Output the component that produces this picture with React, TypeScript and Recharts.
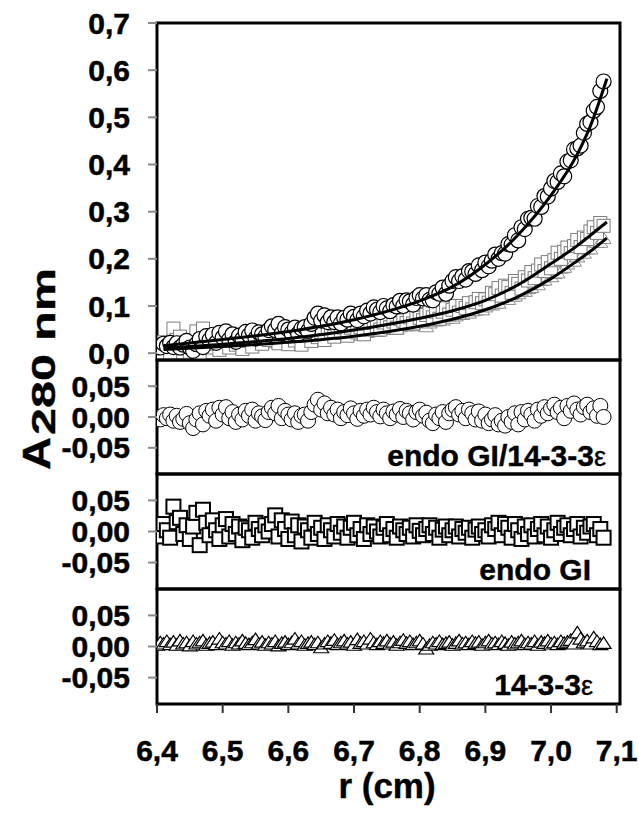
import React from "react";
import { ComposedChart, ReferenceArea, Scatter, XAxis, YAxis } from "recharts";

// radius (cm) of every scan point
const radius = [
  6.4, 6.405, 6.41, 6.415, 6.42, 6.425, 6.43, 6.435, 6.44, 6.445, 6.45, 6.455,
  6.46, 6.465, 6.47, 6.475, 6.48, 6.485, 6.49, 6.495, 6.5, 6.505, 6.51, 6.515,
  6.52, 6.525, 6.53, 6.535, 6.54, 6.545, 6.55, 6.555, 6.56, 6.565, 6.57, 6.575,
  6.58, 6.585, 6.59, 6.595, 6.6, 6.605, 6.61, 6.615, 6.62, 6.625, 6.63, 6.635,
  6.64, 6.645, 6.65, 6.655, 6.66, 6.665, 6.67, 6.675, 6.68, 6.685, 6.69, 6.695,
  6.7, 6.705, 6.71, 6.715, 6.72, 6.725, 6.73, 6.735, 6.74, 6.745, 6.75, 6.755,
  6.76, 6.765, 6.77, 6.775, 6.78, 6.785, 6.79, 6.795, 6.8, 6.805, 6.81, 6.815,
  6.82, 6.825, 6.83, 6.835, 6.84, 6.845, 6.85, 6.855, 6.86, 6.865, 6.87, 6.875,
  6.88, 6.885, 6.89, 6.895, 6.9, 6.905, 6.91, 6.915, 6.92, 6.925, 6.93, 6.935,
  6.94, 6.945, 6.95, 6.955, 6.96, 6.965, 6.97, 6.975, 6.98, 6.985, 6.99, 6.995,
  7.0, 7.005, 7.01, 7.015, 7.02, 7.025, 7.03, 7.035, 7.04, 7.045, 7.05, 7.055,
  7.06, 7.065, 7.07, 7.075, 7.08,
];

// A280, endo GI/14-3-3e (circles)
const absComplex = [
  0.016, 0.012, 0.02, 0.015, 0.022, 0.013, 0.021, 0.012, 0.018, 0.026, 0.012,
  0.005, 0.019, 0.03, 0.013, 0.036, 0.028, 0.039, 0.022, 0.043, 0.033, 0.046,
  0.029, 0.04, 0.024, 0.037, 0.03, 0.045, 0.038, 0.048, 0.031, 0.044, 0.04,
  0.035, 0.049, 0.057, 0.049, 0.062, 0.042, 0.055, 0.05, 0.043, 0.054, 0.041,
  0.052, 0.055, 0.047, 0.062, 0.075, 0.084, 0.069, 0.08, 0.066, 0.076, 0.066,
  0.076, 0.063, 0.075, 0.071, 0.084, 0.077, 0.07, 0.084, 0.078, 0.09, 0.084,
  0.097, 0.092, 0.087, 0.1, 0.095, 0.089, 0.102, 0.099, 0.111, 0.1, 0.112, 0.11,
  0.103, 0.117, 0.123, 0.116, 0.123, 0.113, 0.112, 0.129, 0.126, 0.139, 0.126,
  0.143, 0.153, 0.161, 0.153, 0.163, 0.156, 0.174, 0.173, 0.168, 0.186, 0.176,
  0.192, 0.184, 0.196, 0.209, 0.2, 0.212, 0.211, 0.231, 0.23, 0.25, 0.239, 0.267,
  0.263, 0.285, 0.287, 0.285, 0.312, 0.31, 0.333, 0.332, 0.349, 0.365, 0.363,
  0.381, 0.375, 0.406, 0.409, 0.432, 0.434, 0.44, 0.467, 0.486, 0.49, 0.514,
  0.522, 0.556, 0.576,
];

// A280, endo GI (squares)
const absEndo = [
  0.015, 0.002, 0.023, 0.013, 0.002, 0.052, 0.028, 0.035, 0.01, 0.024, 0.003,
  0.023, 0.046, -0.006, 0.052, 0.031, 0.012, 0.036, 0.02, 0.007, 0.029, 0.04,
  0.012, 0.033, 0.018, 0.03, 0.009, 0.029, 0.026, 0.014, 0.039, 0.03, 0.02,
  0.037, 0.028, 0.04, 0.055, 0.021, 0.048, 0.034, 0.019, 0.048, 0.027, 0.043,
  0.018, 0.043, 0.038, 0.026, 0.051, 0.034, 0.045, 0.028, 0.051, 0.044, 0.035,
  0.056, 0.043, 0.054, 0.037, 0.054, 0.063, 0.044, 0.055, 0.04, 0.063, 0.05,
  0.064, 0.057, 0.05, 0.065, 0.072, 0.055, 0.067, 0.054, 0.073, 0.069, 0.064,
  0.076, 0.063, 0.083, 0.075, 0.07, 0.081, 0.089, 0.076, 0.088, 0.073, 0.088,
  0.095, 0.082, 0.092, 0.1, 0.086, 0.1, 0.096, 0.106, 0.093, 0.108, 0.115,
  0.106, 0.114, 0.107, 0.128, 0.125, 0.138, 0.122, 0.143, 0.14, 0.128, 0.153,
  0.147, 0.137, 0.161, 0.154, 0.172, 0.159, 0.175, 0.188, 0.174, 0.193, 0.18,
  0.197, 0.213, 0.2, 0.215, 0.224, 0.212, 0.227, 0.24, 0.225, 0.245, 0.242,
  0.258, 0.267, 0.255, 0.276, 0.27,
];

// A280, 14-3-3e (triangles)
const absProtein = [
  0.009, 0.013, 0.012, 0.016, 0.011, 0.016, 0.011, 0.018, 0.014, 0.016, 0.012,
  0.019, 0.015, 0.018, 0.021, 0.015, 0.018, 0.02, 0.016, 0.026, 0.02, 0.019,
  0.023, 0.017, 0.022, 0.02, 0.026, 0.022, 0.021, 0.024, 0.03, 0.023, 0.026,
  0.022, 0.026, 0.025, 0.029, 0.023, 0.027, 0.03, 0.026, 0.03, 0.036, 0.029,
  0.034, 0.028, 0.032, 0.035, 0.031, 0.035, 0.027, 0.034, 0.039, 0.036, 0.042,
  0.036, 0.039, 0.043, 0.039, 0.042, 0.038, 0.048, 0.043, 0.047, 0.044, 0.053,
  0.048, 0.046, 0.052, 0.05, 0.055, 0.051, 0.055, 0.051, 0.056, 0.061, 0.058,
  0.062, 0.058, 0.062, 0.066, 0.062, 0.056, 0.064, 0.069, 0.068, 0.074, 0.07,
  0.074, 0.077, 0.074, 0.079, 0.085, 0.082, 0.086, 0.085, 0.092, 0.091, 0.095,
  0.092, 0.098, 0.104, 0.102, 0.106, 0.106, 0.114, 0.114, 0.114, 0.121, 0.121,
  0.126, 0.133, 0.131, 0.137, 0.139, 0.147, 0.145, 0.154, 0.155, 0.163, 0.162,
  0.169, 0.17, 0.18, 0.182, 0.189, 0.196, 0.195, 0.204, 0.213, 0.212, 0.221,
  0.221, 0.236, 0.235, 0.235, 0.243,
];

// fitted curves
const rFit = [6.41, 6.5, 6.6, 6.7, 6.8, 6.85, 6.9, 6.95, 7.0, 7.04, 7.06, 7.085];
const fitComplex = [
  0.016, 0.029, 0.046, 0.071, 0.111, 0.141, 0.188, 0.251, 0.335, 0.422, 0.482, 0.582,
];
const fitEndo = [
  0.011, 0.019, 0.031, 0.049, 0.074, 0.09, 0.112, 0.145, 0.19, 0.228, 0.25, 0.278,
];
const fitProtein = [
  0.008, 0.014, 0.023, 0.036, 0.057, 0.072, 0.092, 0.12, 0.158, 0.196, 0.216, 0.244,
];

// residuals
const residComplex = [
  0.0, -0.004, 0.003, -0.002, 0.004,
  -0.006, 0.002, -0.008, -0.003, 0.005, -0.01,
  -0.018, -0.004, 0.006, -0.012, 0.01, 0.002,
  0.012, -0.006, 0.015, 0.004, 0.016, -0.002,
  0.008, -0.008, 0.004, -0.004, 0.01, 0.002,
  0.012, -0.006, 0.006, 0.001, -0.005, 0.008,
  0.015, 0.006, 0.018, -0.002, 0.01, 0.004,
  -0.004, 0.006, -0.008, 0.002, 0.004, -0.006,
  0.008, 0.02, 0.028, 0.012, 0.022, 0.006,
  0.015, 0.004, 0.012, -0.002, 0.008, 0.003,
  0.014, 0.006, -0.003, 0.01, 0.002, 0.012,
  0.004, 0.015, 0.008, 0.001, 0.012, 0.006,
  -0.002, 0.009, 0.004, 0.013, 0.0, 0.01,
  0.006, -0.004, 0.008, 0.012, 0.002, 0.007,
  -0.006, -0.01, 0.004, -0.002, 0.008, -0.008,
  0.006, 0.012, 0.016, 0.004, 0.01, -0.002,
  0.012, 0.006, -0.004, 0.009, -0.006, 0.004,
  -0.01, -0.004, 0.003, -0.012, -0.006, -0.014,
  0.0, -0.008, 0.006, -0.012, 0.008, -0.004,
  0.01, 0.004, -0.006, 0.012, 0.002, 0.016,
  0.006, 0.014, 0.02, 0.008, 0.015, -0.002,
  0.018, 0.01, 0.022, 0.012, 0.004, 0.016,
  0.02, 0.008, 0.014, 0.002, 0.018, 0.0,
];

const residEndo = [
  0.005, -0.008, 0.012, 0.002, -0.01,
  0.04, 0.015, 0.022, -0.004, 0.01, -0.012,
  0.008, 0.03, -0.022, 0.035, 0.014, -0.006,
  0.018, 0.002, -0.012, 0.01, 0.02, -0.008,
  0.012, -0.004, 0.008, -0.014, 0.006, 0.002,
  -0.01, 0.014, 0.004, -0.006, 0.01, 0.0,
  0.012, 0.026, -0.008, 0.018, 0.004, -0.012,
  0.016, -0.006, 0.01, -0.016, 0.008, 0.002,
  -0.01, 0.014, -0.004, 0.006, -0.012, 0.01,
  0.002, -0.008, 0.012, -0.002, 0.008, -0.01,
  0.006, 0.014, -0.006, 0.004, -0.012, 0.01,
  -0.004, 0.008, 0.0, -0.008, 0.006, 0.012,
  -0.006, 0.004, -0.01, 0.008, 0.002, -0.004,
  0.006, -0.008, 0.01, 0.001, -0.006, 0.004,
  0.01, -0.004, 0.006, -0.01, 0.003, 0.008,
  -0.006, 0.002, 0.008, -0.008, 0.004, -0.002,
  0.006, -0.01, 0.003, 0.008, -0.004, 0.002,
  -0.008, 0.01, 0.004, 0.014, -0.006, 0.012,
  0.006, -0.01, 0.012, 0.002, -0.012, 0.008,
  -0.004, 0.01, -0.008, 0.004, 0.012, -0.006,
  0.008, -0.01, 0.002, 0.014, -0.004, 0.006,
  0.01, -0.006, 0.004, 0.012, -0.008, 0.006,
  -0.002, 0.008, 0.012, -0.006, 0.004, -0.01,
];

const residProtein = [
  0.002, 0.006, 0.004, 0.008, 0.003,
  0.007, 0.002, 0.009, 0.004, 0.006, 0.001,
  0.008, 0.004, 0.006, 0.009, 0.002, 0.005,
  0.007, 0.003, 0.012, 0.006, 0.004, 0.008,
  0.002, 0.006, 0.004, 0.009, 0.005, 0.003,
  0.006, 0.011, 0.004, 0.007, 0.002, 0.006,
  0.004, 0.008, 0.001, 0.005, 0.007, 0.003,
  0.006, 0.012, 0.004, 0.008, 0.002, 0.005,
  0.007, 0.003, 0.006, -0.002, 0.004, 0.008,
  0.005, 0.01, 0.003, 0.006, 0.009, 0.004,
  0.007, 0.002, 0.011, 0.005, 0.008, 0.004,
  0.012, 0.006, 0.003, 0.008, 0.005, 0.009,
  0.004, 0.007, 0.002, 0.006, 0.01, 0.005,
  0.008, 0.003, 0.006, 0.009, 0.004, -0.004,
  0.002, 0.006, 0.004, 0.008, 0.003, 0.005,
  0.007, 0.002, 0.005, 0.009, 0.004, 0.006,
  0.003, 0.008, 0.005, 0.007, 0.002, 0.006,
  0.009, 0.004, 0.006, 0.003, 0.008, 0.005,
  0.002, 0.007, 0.004, 0.006, 0.009, 0.003,
  0.006, 0.004, 0.008, 0.002, 0.007, 0.005,
  0.009, 0.004, 0.006, 0.003, 0.008, 0.005,
  0.007, 0.01, 0.004, 0.022, 0.012, 0.006,
  0.009, 0.004, 0.014, 0.008, 0.003, 0.005,
];

const xTicks = [6.4, 6.5, 6.6, 6.7, 6.8, 6.9, 7.0, 7.1];
const mainTicks = [0, 0.1, 0.2, 0.3, 0.4, 0.5, 0.6, 0.7];
const residTicks = [-0.05, 0, 0.05];

const FONT = "'Liberation Sans', Arial, Helvetica, sans-serif";
const X_DOMAIN: [number, number] = [6.4, 7.105];
const MAIN_DOMAIN: [number, number] = [-0.0145, 0.7];
const RESID_DOMAIN: [number, number] = [-0.0925, 0.0925];

const tickText = {
  fill: "#000",
  stroke: "#000",
  strokeWidth: 0.5,
  fontSize: 30,
  fontWeight: 700,
  fontFamily: FONT,
};
const greyTick = { stroke: "#8a8a8a", strokeWidth: 2 };

const toPoints = (xs: number[], ys: number[]) =>
  xs
    .map((x, i) => ({ x, y: ys[i] }))
    .filter((p) => typeof p.y === "number");

const comma = (digits: number) => (v: number) =>
  Number(v).toFixed(digits).replace(".", ",");

const circle = (stroke: string, width: number) => (p: any) =>
  (
    <circle cx={p.cx} cy={p.cy} r={7.5} fill="#fff" stroke={stroke} strokeWidth={width} />
  );

const square = (stroke: string, width: number, side: number) => (p: any) =>
  (
    <rect
      x={p.cx - side / 2}
      y={p.cy - side / 2}
      width={side}
      height={side}
      fill="#fff"
      stroke={stroke}
      strokeWidth={width}
    />
  );

const triangle = (stroke: string, width: number) => (p: any) =>
  (
    <path
      d={`M${p.cx},${p.cy - 6.5}L${p.cx + 7.5},${p.cy + 5}L${p.cx - 7.5},${p.cy + 5}Z`}
      fill="#fff"
      stroke={stroke}
      strokeWidth={width}
    />
  );

const noMark = () => <g />;

function MainPanel() {
  return (
    <ComposedChart
      width={639}
      height={374}
      margin={{ top: 23, right: 19, bottom: 14, left: 0 }}
    >
      <XAxis type="number" dataKey="x" domain={X_DOMAIN} hide allowDataOverflow />
      <YAxis
        type="number"
        dataKey="y"
        domain={MAIN_DOMAIN}
        ticks={mainTicks}
        interval={0}
        width={157}
        allowDataOverflow
        axisLine={false}
        tickLine={greyTick}
        tickSize={9}
        tickMargin={18}
        tick={tickText}
        tickFormatter={comma(1)}
      />
      <Scatter
        data={toPoints(radius, absProtein)}
        shape={triangle("#8c8c8c", 1)}
        isAnimationActive={false}
      />
      <Scatter
        data={toPoints(radius, absEndo)}
        shape={square("#7c7c7c", 1, 13)}
        isAnimationActive={false}
      />
      <Scatter
        data={toPoints(radius, absComplex)}
        shape={circle("#000", 1.2)}
        isAnimationActive={false}
      />
      {[fitProtein, fitEndo, fitComplex].map((fit, i) => (
        <Scatter
          key={i}
          data={toPoints(rFit, fit)}
          shape={noMark}
          line={{ stroke: "#000", strokeWidth: 3 }}
          lineJointType="monotoneX"
          isAnimationActive={false}
        />
      ))}
      <ReferenceArea
        x1={X_DOMAIN[0]}
        x2={X_DOMAIN[1]}
        y1={MAIN_DOMAIN[0]}
        y2={MAIN_DOMAIN[1]}
        fill="none"
        stroke="#000"
        strokeWidth={3}
      />
    </ComposedChart>
  );
}

interface ResidualPanelProps {
  values: number[];
  shape: (p: any) => React.ReactElement;
  height: number;
  bottom: number;
  showXLabels?: boolean;
}

function ResidualPanel({ values, shape, height, bottom, showXLabels }: ResidualPanelProps) {
  return (
    <ComposedChart
      width={639}
      height={height}
      margin={{ top: 4, right: 19, bottom, left: 0 }}
    >
      <XAxis
        xAxisId="top"
        type="number"
        dataKey="x"
        orientation="top"
        mirror
        height={0}
        domain={X_DOMAIN}
        ticks={xTicks}
        interval={0}
        allowDataOverflow
        axisLine={false}
        tickLine={{ stroke: "#000", strokeWidth: 2 }}
        tickSize={9}
        tick={false}
      />
      {showXLabels && (
        <XAxis
          xAxisId="bottom"
          type="number"
          dataKey="x"
          orientation="bottom"
          height={60}
          domain={X_DOMAIN}
          ticks={xTicks}
          interval={0}
          allowDataOverflow
          axisLine={false}
          tickLine={{ stroke: "#333", strokeWidth: 2 }}
          tickSize={9}
          tickMargin={27}
          tick={tickText}
          tickFormatter={comma(1)}
        />
      )}
      <YAxis
        type="number"
        dataKey="y"
        domain={RESID_DOMAIN}
        ticks={residTicks}
        interval={0}
        width={157}
        allowDataOverflow
        axisLine={false}
        tickLine={greyTick}
        tickSize={9}
        tickMargin={18}
        tick={tickText}
        tickFormatter={comma(2)}
      />
      <Scatter
        xAxisId="top"
        data={toPoints(radius, values)}
        shape={shape}
        isAnimationActive={false}
      />
      <ReferenceArea
        xAxisId="top"
        x1={X_DOMAIN[0]}
        x2={X_DOMAIN[1]}
        y1={RESID_DOMAIN[0]}
        y2={RESID_DOMAIN[1]}
        fill="none"
        stroke="#000"
        strokeWidth={3}
      />
    </ComposedChart>
  );
}

const panelText = {
  fontFamily: FONT,
  fontSize: 30,
  fontWeight: 700,
  fill: "#000",
  stroke: "#000",
  strokeWidth: 0.4,
};

export default function App() {
  return (
    <div
      style={{
        position: "absolute",
        left: 0,
        top: 0,
        width: 639,
        height: 813,
        background: "#fff",
      }}
    >
      <div style={{ position: "absolute", left: 0, top: 0 }}>
        <MainPanel />
      </div>
      <div style={{ position: "absolute", left: 0, top: 356 }}>
        <ResidualPanel
          values={residComplex}
          shape={circle("#000", 1)}
          height={134}
          bottom={16}
        />
      </div>
      <div style={{ position: "absolute", left: 0, top: 470 }}>
        <ResidualPanel
          values={residEndo}
          shape={square("#000", 2, 14)}
          height={134}
          bottom={15}
        />
      </div>
      <div style={{ position: "absolute", left: 0, top: 585 }}>
        <ResidualPanel
          values={residProtein}
          shape={triangle("#000", 1.2)}
          height={228}
          bottom={49}
          showXLabels
        />
      </div>
      <svg
        width={639}
        height={813}
        style={{ position: "absolute", left: 0, top: 0, pointerEvents: "none" }}
      >
        <text
          transform="translate(50, 470) rotate(-90)"
          textLength={33}
          lengthAdjust="spacingAndGlyphs"
          style={{ ...panelText, fontSize: 38 }}
        >
          A
        </text>
        <text
          transform="translate(55, 435) rotate(-90)"
          textLength={167}
          lengthAdjust="spacingAndGlyphs"
          style={{ ...panelText, fontSize: 34 }}
        >
          280 nm
        </text>
        <text x={606} y={466} textAnchor="end" style={panelText}>
          endo GI/14-3-3
          <tspan fontWeight={400} fontSize={27}>
            ε
          </tspan>
        </text>
        <text x={591} y={580} textAnchor="end" style={panelText}>
          endo GI
        </text>
        <text x={593} y={695} textAnchor="end" style={panelText}>
          14-3-3
          <tspan fontWeight={400} fontSize={27}>
            ε
          </tspan>
        </text>
        <text
          x={387}
          y={798}
          textAnchor="middle"
          style={{ ...panelText, fontSize: 35 }}
        >
          r (cm)
        </text>
      </svg>
    </div>
  );
}
